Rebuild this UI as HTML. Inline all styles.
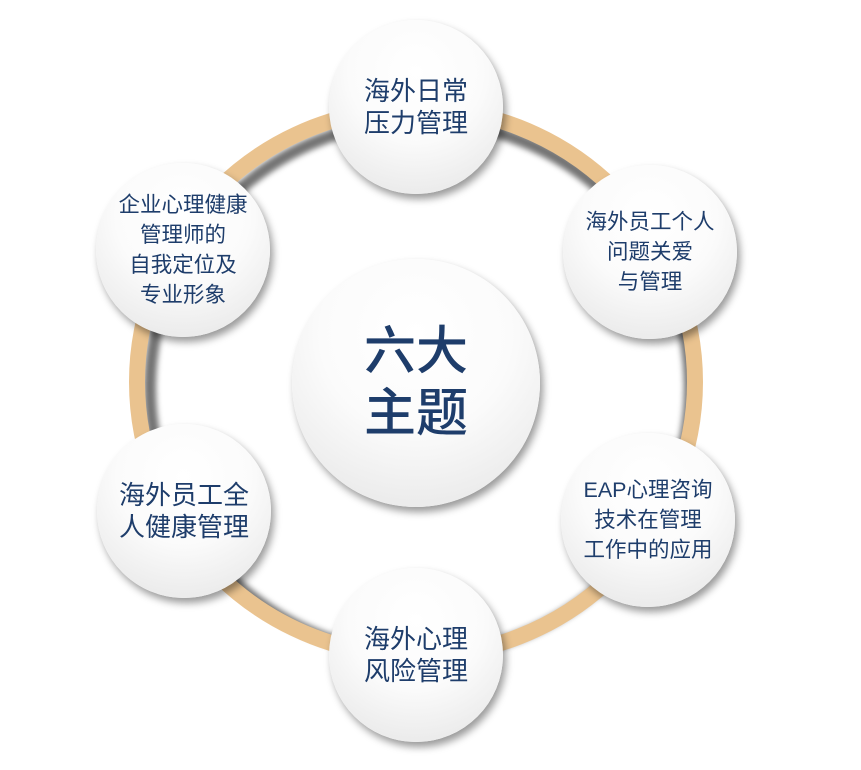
<!DOCTYPE html>
<html><head><meta charset="utf-8"><style>
body{margin:0;width:861px;height:770px;background:#fff;overflow:hidden;font-family:"Liberation Sans","Noto Sans CJK SC",sans-serif;}
.c{position:absolute;border-radius:50%;background:radial-gradient(circle at 50% 30%,#ffffff 0%,#fbfbfb 45%,#e3e3e3 100%);box-shadow:3px 5px 8px rgba(0,0,0,0.4);display:flex;align-items:center;justify-content:center;text-align:center;color:#1e3d6b;}
.s{width:174px;height:174px;font-size:26px;line-height:32px;}
.s.sm{font-size:21.5px;line-height:30px;}
</style></head><body>
<svg width="861" height="770" style="position:absolute;left:0;top:0">
<defs><filter id="f" x="-20%" y="-20%" width="140%" height="140%"><feGaussianBlur stdDeviation="3"/></filter></defs>
<ellipse cx="420" cy="388" rx="270" ry="267" fill="none" stroke="rgba(0,0,0,0.55)" stroke-width="12" filter="url(#f)"/>
<ellipse cx="416" cy="382" rx="279" ry="274" fill="none" stroke="#eac38f" stroke-width="16"/>
</svg>
<div class="c s" style="left:329px;top:20px">海外日常<br>压力管理</div>
<div class="c s sm" style="left:96px;top:163px">企业心理健康<br>管理师的<br>自我定位及<br>专业形象</div>
<div class="c s sm" style="left:563px;top:165px">海外员工个人<br>问题关爱<br>与管理</div>
<div class="c s" style="left:97px;top:424px">海外员工全<br>人健康管理</div>
<div class="c s sm" style="left:561px;top:433px">EAP心理咨询<br>技术在管理<br>工作中的应用</div>
<div class="c s" style="left:329px;top:568px">海外心理<br>风险管理</div>
<div class="c" style="left:292px;top:259px;width:248px;height:248px;font-size:52px;line-height:62px;font-weight:500;">六大<br>主题</div>
</body></html>
